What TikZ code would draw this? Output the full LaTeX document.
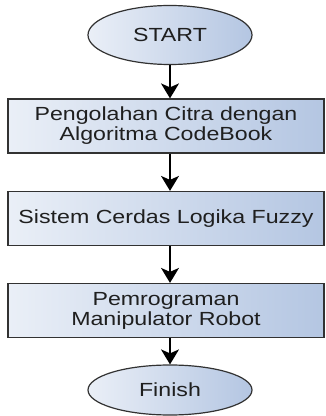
\documentclass[tikz,border=0pt]{standalone}
\usepackage{fontspec}
\setmainfont{Liberation Sans}
\newfontfamily\wfont[FakeStretch=1.22]{Liberation Sans}
\usetikzlibrary{shapes.geometric,arrows.meta}
\definecolor{fillL}{RGB}{234,239,247}
\definecolor{fillR}{RGB}{180,198,226}
\definecolor{edge}{RGB}{50,50,50}
\tikzset{
  x=1pt,y=1pt,
  base/.style={draw=edge, line width=1.2pt, left color=fillL, right color=fillR,
    font=\wfont\fontsize{19}{20}\selectfont, text=black!88, inner sep=0pt, align=center},
  procbox/.style={base, rectangle, minimum width=316pt, minimum height=54pt},
  term/.style={base, ellipse, minimum width=164pt},
  flow/.style={line width=1.4pt, black, -{Stealth[width=18pt,length=15pt,inset=4pt]}}
}
\begin{document}
\begin{tikzpicture}
\useasboundingbox (0,0) rectangle (325,416);
\node[term, minimum height=59pt] (start) at (170,381) {START};
\node[procbox] (p1) at (166,290) {Pengolahan Citra dengan\\Algoritma CodeBook};
\node[procbox] (p2) at (166,197.5) {Sistem Cerdas Logika Fuzzy};
\node[procbox] (p3) at (166,105.5) {Pemrograman\\Manipulator Robot};
\node[term, minimum height=50pt] (fin) at (170,26) {Finish};
\draw[flow] (start.south) -- (start.south |- p1.north);
\draw[flow] (start.south |- p1.south) -- (start.south |- p2.north);
\draw[flow] (start.south |- p2.south) -- (start.south |- p3.north);
\draw[flow] (start.south |- p3.south) -- (fin.north);
\end{tikzpicture}
\end{document}
